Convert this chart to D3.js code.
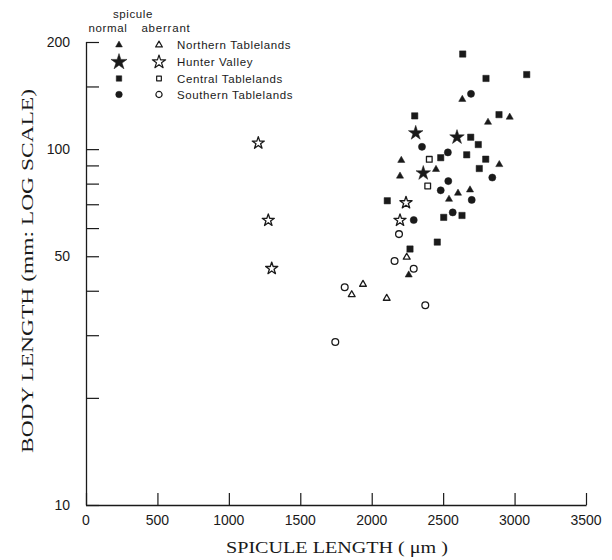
<!DOCTYPE html>
<html>
<head>
<meta charset="utf-8">
<script src="https://cdn.jsdelivr.net/npm/d3@7"></script>
<style>
  html, body { margin: 0; padding: 0; background: #fff; }
  svg { display: block; }
</style>
</head>
<body>
<svg id="chart" width="612" height="560"></svg>
<script>
// ---- data: [spicule length (µm), body length (mm)] ----
const northernNormal = [[2634,138],[2966,123],[2814,119],[2207,93],[2893,90.5],[2450,87.7],[2198,84],[2604,75.2],[2688,76.8],[2541,72.3],[2259,44.3]];
const northernAberrant = [[2245,49.7],[1939,41.7],[1860,39.0],[2105,38.1]];
const hunterNormal = [[2308,111],[2597,108],[2361,85.6]];
const hunterAberrant = [[1206,104],[1276,63.1],[1300,46.2],[2240,70.7],[2198,63.1]];
const centralNormal = [[2637,185],[2800,158],[3085,162],[2891,125],[2301,124],[2693,108],[2746,103],[2483,94.6],[2665,96.4],[2798,93.7],[2753,88.2],[2109,71.6],[2632,65.1],[2504,64.3],[2459,54.8],[2268,52.4]];
const centralAberrant = [[2403,93.6],[2392,78.8]];
const southernNormal = [[2695,143],[2352,101.5],[2533,97.9],[2844,83.2],[2536,81.3],[2483,76.6],[2700,72.0],[2567,66.4],[2294,63.2]];
const southernAberrant = [[2191,57.7],[2160,48.5],[2294,46.1],[1811,40.9],[2375,36.4],[1745,28.7]];

const xTicks = [0,500,1000,1500,2000,2500,3000,3500];
const yTicks = [10,20,30,40,50,60,70,80,90,100,150,200];
const yTickLabels = [10,50,100,200];
const regions = ["Northern Tablelands","Hunter Valley","Central Tablelands","Southern Tablelands"];

// ---- layout ----
const svg = d3.select("#chart");
const ink = "#1a1a1a";
const x = d3.scaleLinear().domain([0,3500]).range([86,586]);
const y = d3.scaleLog().domain([10,200]).range([505,42]);

// axes
const xAxis = d3.axisBottom(x).tickValues(xTicks).tickSize(-12).tickFormat("");
const yAxis = d3.axisLeft(y).tickValues(yTicks).tickSize(-13).tickFormat("");
const gx = svg.append("g").attr("transform","translate(0,505)").call(xAxis);
const gy = svg.append("g").attr("transform","translate(86,0)").call(yAxis);
[gx,gy].forEach(g=>{
  g.select(".domain").attr("stroke",ink).attr("stroke-width",1.3);
  g.selectAll(".tick line").attr("stroke",ink).attr("stroke-width",1.2);
});
gy.select(".domain").attr("d","M0.5,"+y(200)+"V505.5");
gx.select(".domain").attr("d","M86,0.5H"+(x(3500)+0.6));

// tick labels
svg.append("g").selectAll("text").data(xTicks).join("text")
  .attr("x",d=>x(d)).attr("y",525)
  .attr("text-anchor","middle")
  .attr("font-family","Liberation Sans, Arial, sans-serif")
  .attr("font-size",14).attr("fill",ink)
  .text(d=>d);
svg.append("g").selectAll("text").data(yTickLabels).join("text")
  .attr("x",70).attr("y",d=>y(d)+5)
  .attr("text-anchor","end")
  .attr("font-family","Liberation Sans, Arial, sans-serif")
  .attr("font-size",14).attr("fill",ink)
  .text(d=>d);

// axis titles
svg.append("text")
  .attr("x",337).attr("y",553)
  .attr("text-anchor","middle")
  .attr("font-family","Liberation Serif, Times New Roman, serif")
  .attr("font-size",16).attr("fill",ink)
  .attr("textLength",222).attr("lengthAdjust","spacingAndGlyphs")
  .text("SPICULE LENGTH ( μm )");
svg.append("text")
  .attr("transform","translate(33,271) rotate(-90)")
  .attr("text-anchor","middle")
  .attr("font-family","Liberation Serif, Times New Roman, serif")
  .attr("font-size",16).attr("fill",ink)
  .attr("textLength",364).attr("lengthAdjust","spacingAndGlyphs")
  .text("BODY LENGTH (mm: LOG SCALE)");

// ---- marks ----
const sym = (type,size)=>d3.symbol().type(type).size(size)();
const styles = [
  {data:northernNormal,   type:d3.symbolTriangle, size:22, open:false},
  {data:northernAberrant, type:d3.symbolTriangle, size:20, open:true},
  {data:hunterNormal,     type:d3.symbolStar,     size:66, open:false},
  {data:hunterAberrant,   type:d3.symbolStar,     size:46, open:true},
  {data:centralNormal,    type:d3.symbolSquare,   size:40, open:false},
  {data:centralAberrant,  type:d3.symbolSquare,   size:32, open:true},
  {data:southernNormal,   type:d3.symbolCircle,   size:40, open:false},
  {data:southernAberrant, type:d3.symbolCircle,   size:36, open:true}
];
const marks = svg.append("g");
styles.forEach(s=>{
  marks.append("g").selectAll("path").data(s.data).join("path")
    .attr("transform",d=>`translate(${x(d[0])},${y(d[1])})`)
    .attr("d",sym(s.type,s.size))
    .attr("fill",s.open?"#fff":ink)
    .attr("stroke",ink)
    .attr("stroke-width",s.open?1.3:0.5)
    .attr("stroke-linejoin","round");
});

// ---- legend ----
const lg = svg.append("g").attr("font-family","Liberation Sans, Arial, sans-serif").attr("fill",ink);
lg.append("text").attr("x",133).attr("y",18).attr("text-anchor","middle").attr("font-size",11.5).attr("letter-spacing",0.6).text("spicule");
lg.append("text").attr("x",108).attr("y",32).attr("text-anchor","middle").attr("font-size",11.5).attr("letter-spacing",0.6).text("normal");
lg.append("text").attr("x",166).attr("y",32).attr("text-anchor","middle").attr("font-size",11.5).attr("letter-spacing",0.8).text("aberrant");
const rowY = [45,62,78.5,94.5];
const legTypes = [
  [d3.symbolTriangle,20,20],[d3.symbolStar,80,55],[d3.symbolSquare,30,22],[d3.symbolCircle,34,30]
];
regions.forEach((r,i)=>{
  lg.append("path").attr("transform",`translate(119,${rowY[i]})`)
    .attr("d",sym(legTypes[i][0],legTypes[i][1])).attr("fill",ink).attr("stroke",ink).attr("stroke-width",0.5);
  lg.append("path").attr("transform",`translate(159,${rowY[i]})`)
    .attr("d",sym(legTypes[i][0],legTypes[i][2])).attr("fill","#fff").attr("stroke",ink).attr("stroke-width",1.2).attr("stroke-linejoin","round");
  lg.append("text").attr("x",177).attr("y",rowY[i]+4).attr("font-size",11.5).attr("letter-spacing",0.6).text(r);
});
</script>
</body>
</html>
